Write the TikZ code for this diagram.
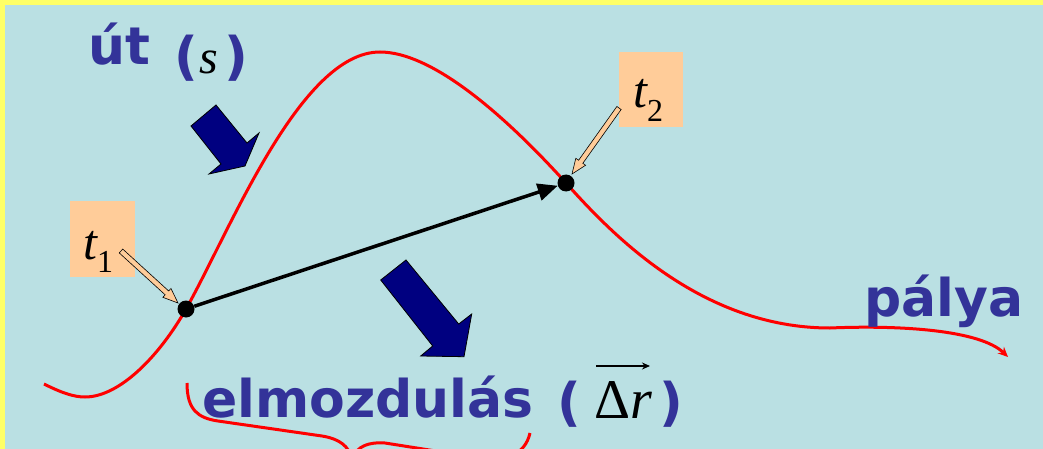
\documentclass[tikz,border=0pt]{standalone}
\usepackage{fontspec}
\newfontfamily\lbl{DejaVu Sans}
\newfontfamily\tim{Liberation Serif}
\usetikzlibrary{arrows.meta,calc}
\definecolor{bgblue}{HTML}{BAE0E3}
\definecolor{frameyellow}{HTML}{FFFF66}
\definecolor{txtblue}{HTML}{333399}
\definecolor{navyfill}{HTML}{000080}
\definecolor{peach}{HTML}{FFCC99}
\newcommand\blkarrow[6]{%
  \coordinate (bkc) at ($(#3)!#6!(#2)$);
  \draw[#1] ($(#2)!#4!90:(#3)$) -- ($(bkc)!#4!90:(#3)$) -- ($(bkc)!#5!90:(#3)$) -- (#3)
    -- ($(bkc)!#5!-90:(#3)$) -- ($(bkc)!#4!-90:(#3)$) -- ($(#2)!#4!-90:(#3)$) -- cycle;}
\tikzset{
  lab/.style={font=\lbl\bfseries\fontsize{52}{60}\selectfont, text=txtblue, inner sep=0pt, anchor=base west},
  mth/.style={font=\tim\fontsize{50}{56}\selectfont, inner sep=0pt, anchor=base west},
  curve/.style={red, line width=3pt},
  dotnode/.style={circle, fill=black, minimum size=17pt, inner sep=0pt},
  navyarrow/.style={fill=navyfill, draw=black, line width=0.8pt, line join=miter},
  peacharrow/.style={fill=peach, draw=black, line width=0.6pt, line join=miter},
  tbox/.style={fill=peach, inner sep=0pt}
}
\begin{document}
\begin{tikzpicture}[x=1pt,y=-1pt]
\useasboundingbox (0,0) rectangle (1043,449);
\clip (0,0) rectangle (1043,449);
\fill[frameyellow] (0,0) rectangle (1043,449);
\fill[bgblue] (5,5) rectangle (1050,460);

% trajectory
\draw[curve, -{Stealth[length=10pt,width=9pt]}] (44,384)
  .. controls (62,393) and (74,397) .. (85,397)
  .. controls (120,397) and (160,355) .. (186,309)
  .. controls (230,231) and (300,52) .. (380,52)
  .. controls (430,52) and (500,110) .. (566,183)
  .. controls (610,232) and (700,328) .. (830,328)
  .. controls (900,325) and (980,330) .. (1008,357);

% brace under the label
\draw[curve] (187,383) .. controls (187,410) and (198,418) .. (218,421) -- (322,436)
  .. controls (340,439) and (348,446) .. (352,458)
  .. controls (358,446) and (368,442) .. (385,443) -- (480,458)
  .. controls (505,462) and (525,455) .. (530,433);

% label boxes
\node[tbox, minimum width=65pt, minimum height=76pt] (t1box) at (102.5,239) {};
\node[tbox, minimum width=64pt, minimum height=75pt] (t2box) at (651,89.5) {};
\node[mth] (t1lab) at (83,259) {\itshape t\upshape\raisebox{-13pt}{\fontsize{32}{32}\selectfont 1}};
\node[mth] (t2lab) at (633,108) {\itshape t\upshape\raisebox{-14pt}{\fontsize{32}{32}\selectfont 2}};

% points
\node[dotnode] (p1) at (186,309) {};
\node[dotnode] (p2) at (566,183) {};
\draw[line width=3.5pt, -{Triangle[length=20pt,width=17pt]}] (p1) -- (p2);

% small pointer arrows
\coordinate (a1s) at (121,251);
\coordinate (a1e) at (178,303);
\coordinate (a2s) at (619,108);
\coordinate (a2e) at (572,174);
\blkarrow{peacharrow}{a1s}{a1e}{2.6pt}{6pt}{15pt}
\blkarrow{peacharrow}{a2s}{a2e}{2.6pt}{6pt}{15pt}

% navy block arrows
\draw[navyarrow] (191,126) -- (216,105) -- (247,143) -- (259,133) -- (245,166) -- (209,174) -- (221,164) -- cycle;
\draw[navyarrow] (380.7,280) -- (406,260) -- (458.7,324) -- (471.7,314) -- (464,356.7) -- (420.7,356) -- (432.7,346) -- cycle;

% texts
\node[lab] (ut) at (88,65) {út};
\node[lab] (utpl) at (174,75) {(};
\node[mth, font=\tim\itshape\fontsize{48}{56}\selectfont] (s) at (199,74) {s};
\node[lab] (utpr) at (224,75) {)};

\node[lab] (elm) at (202,417) {elmozdulás};
\node[lab] (elmpl) at (557,420) {(};
\node[mth, font=\tim\fontsize{56}{60}\selectfont] (dr) at (594,418) {Δ\itshape r};
\node[lab] (elmpr) at (659,420) {)};
\coordinate (vecs) at (596,366);
\coordinate (vece) at (650,366);
\draw[line width=1.3pt, -{Stealth[length=8pt,width=7pt]}] (vecs) -- (vece);

\node[lab] (palya) at (864,316) {pálya};
\end{tikzpicture}
\end{document}
